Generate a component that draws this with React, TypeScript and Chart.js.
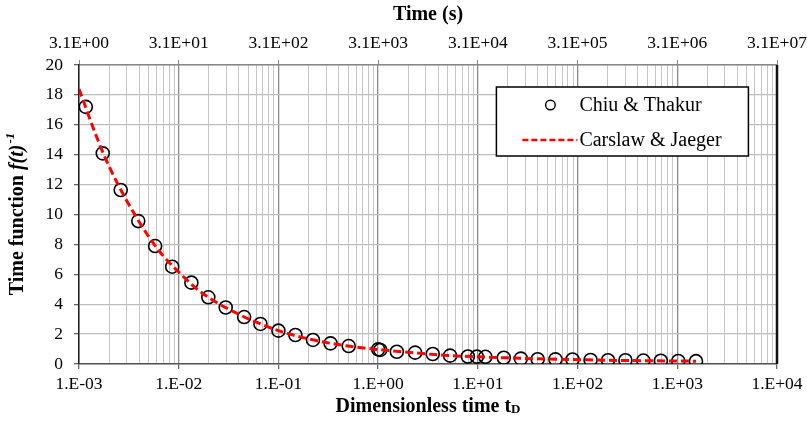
import React, { useEffect, useRef } from "react";
import { Chart, registerables } from "chart.js";

Chart.register(...registerables);

// Chiu & Thakur (circles)
const ctTD = [1.17e-3, 1.73e-3, 2.62e-3, 3.93e-3, 5.8e-3, 8.6e-3, 1.34e-2, 1.98e-2, 2.96e-2, 4.53e-2, 6.6e-2, 0.1, 0.148, 0.222, 0.333, 0.507, 1.0, 1.05, 1.54, 2.35, 3.53, 5.27, 7.94, 9.77, 11.9, 18.2, 27, 39.8, 60, 89, 135, 202, 302, 457, 684, 1023, 1540];
const ctF = [17.2, 14.09, 11.64, 9.56, 7.89, 6.51, 5.44, 4.46, 3.78, 3.14, 2.68, 2.23, 1.94, 1.61, 1.38, 1.2, 0.98, 0.94, 0.82, 0.76, 0.67, 0.56, 0.5, 0.49, 0.48, 0.42, 0.36, 0.32, 0.31, 0.3, 0.27, 0.25, 0.25, 0.23, 0.22, 0.2, 0.19];

// Carslaw & Jaeger (dashed line)
const cjTD = [0.001, 0.0015, 0.002, 0.003, 0.005, 0.007, 0.01, 0.015, 0.02, 0.03, 0.05, 0.07, 0.1, 0.2, 0.5, 1, 2, 5, 10, 20, 50, 100, 200, 500, 1000, 1540];
const cjF = [18.4, 15.2, 13.23, 10.94, 8.52, 7.23, 6.15, 5.05, 4.44, 3.75, 3.02, 2.62, 2.23, 1.68, 1.2, 0.97, 0.78, 0.57, 0.48, 0.41, 0.33, 0.29, 0.25, 0.22, 0.2, 0.19];

// axis ranges / ticks
const xMin = 1e-3;
const xMax = 1e4;
const topMin = 3.1;
const topMax = 3.1e7;
const topTicks = [3.1, 31, 310, 3100, 31000, 310000, 3100000, 31000000];
const yMin = 0;
const yMax = 20;
const yStep = 2;

const seriesLabels = ["Chiu & Thakur", "Carslaw & Jaeger"];
const FONT = "'Liberation Serif', 'Times New Roman', serif";

function expLabel(v: number, mant: string) {
  const e = Math.round(Math.log10(v / parseFloat(mant)));
  const s = e < 0 ? "-" : "+";
  const a = Math.abs(e);
  return `${mant}E${s}${a < 10 ? "0" + a : a}`;
}

function isPow10(v: number) {
  const l = Math.log10(v);
  return Math.abs(l - Math.round(l)) < 1e-6;
}

const decorPlugin = {
  id: "decor",
  afterDraw(chart: any) {
    const { ctx, chartArea } = chart;
    const { left, right, top, bottom } = chartArea;
    ctx.save();
    // right border
    ctx.strokeStyle = "#111";
    ctx.lineWidth = 2.5;
    ctx.beginPath();
    ctx.moveTo(right, top);
    ctx.lineTo(right, bottom);
    ctx.stroke();

    // titles
    ctx.fillStyle = "#000";
    ctx.textBaseline = "middle";
    ctx.textAlign = "center";
    ctx.font = `bold 20px ${FONT}`;
    const cx = (left + right) / 2;
    ctx.fillText("Time (s)", cx, 15);

    // bottom title with small D
    const mainT = "Dimensionless time t";
    ctx.font = `bold 20px ${FONT}`;
    const w1 = ctx.measureText(mainT).width;
    ctx.font = `bold 13px ${FONT}`;
    const w2 = ctx.measureText("D").width;
    const sx = cx - (w1 + w2) / 2;
    ctx.textAlign = "left";
    ctx.textBaseline = "alphabetic";
    ctx.font = `bold 20px ${FONT}`;
    ctx.fillText(mainT, sx, 412);
    ctx.font = `bold 13px ${FONT}`;
    ctx.fillText("D", sx + w1, 413);

    // y title rotated
    ctx.textBaseline = "middle";
    const cy = (top + bottom) / 2;
    ctx.translate(18, cy);
    ctx.rotate(-Math.PI / 2);
    const p1 = "Time function ";
    const p2 = "f(t)";
    const p3 = "-1";
    ctx.font = `bold 20px ${FONT}`;
    const a1 = ctx.measureText(p1).width;
    ctx.font = `bold italic 20px ${FONT}`;
    const a2 = ctx.measureText(p2).width;
    ctx.font = `bold italic 13px ${FONT}`;
    const a3 = ctx.measureText(p3).width;
    let px = -(a1 + a2 + a3) / 2;
    ctx.font = `bold 20px ${FONT}`;
    ctx.fillText(p1, px, 0);
    px += a1;
    ctx.font = `bold italic 20px ${FONT}`;
    ctx.fillText(p2, px, 0);
    px += a2 + 1;
    ctx.font = `bold italic 13px ${FONT}`;
    ctx.fillText(p3, px, -7);
    ctx.restore();

    // legend
    ctx.save();
    const bx = left + (right - left) * 0.598;
    const by = top + 22;
    const bw = 252;
    const bh = 69;
    ctx.fillStyle = "#fff";
    ctx.fillRect(bx, by, bw, bh);
    ctx.strokeStyle = "#000";
    ctx.lineWidth = 1.5;
    ctx.strokeRect(bx, by, bw, bh);
    const r1 = by + 18;
    const r2 = by + 53;
    ctx.beginPath();
    ctx.arc(bx + 54, r1, 4.8, 0, Math.PI * 2);
    ctx.lineWidth = 1.4;
    ctx.stroke();
    ctx.strokeStyle = "#ff0000";
    ctx.lineWidth = 2.5;
    ctx.setLineDash([6, 3]);
    ctx.beginPath();
    ctx.moveTo(bx + 26, r2);
    ctx.lineTo(bx + 81, r2);
    ctx.stroke();
    ctx.setLineDash([]);
    ctx.fillStyle = "#000";
    ctx.font = `20px ${FONT}`;
    ctx.textAlign = "left";
    ctx.textBaseline = "middle";
    ctx.fillText(seriesLabels[0], bx + 83, r1 + 1);
    ctx.fillText(seriesLabels[1], bx + 83, r2 + 1);
    ctx.restore();
  },
};

function zeroSidePad(scale: any, h: number) {
  scale.height = h;
  scale.paddingLeft = 0;
  scale.paddingRight = 0;
}

export default function App() {
  const ref = useRef<HTMLCanvasElement | null>(null);
  useEffect(() => {
    if (!ref.current) return;
    const tickFont = { family: FONT, size: 17.5 };
    const chart = new Chart(ref.current, {
      type: "scatter",
      data: {
        datasets: [
          {
            label: seriesLabels[0],
            data: ctTD.map((x, i) => ({ x, y: ctF[i] })),
            pointRadius: 6.5,
            pointBorderWidth: 1.6,
            pointBorderColor: "#000",
            pointBackgroundColor: "rgba(0,0,0,0)",
            showLine: false,
            order: 2,
          },
          {
            label: seriesLabels[1],
            data: cjTD.map((x, i) => ({ x, y: cjF[i] })),
            showLine: true,
            pointRadius: 0,
            borderColor: "#ff0000",
            borderWidth: 3,
            borderDash: [8, 4],
            cubicInterpolationMode: "monotone",
            order: 1,
          },
        ],
      },
      options: {
        animation: false,
        responsive: false,
        layout: { padding: { left: 0, right: 30, top: 0, bottom: 0 } },
        plugins: { legend: { display: false }, tooltip: { enabled: false } },
        scales: {
          x: {
            type: "logarithmic",
            position: "bottom",
            min: xMin,
            max: xMax,
            afterBuildTicks(scale: any) {
              const t: any[] = [];
              for (let e = -3; e <= 4; e++) {
                for (let m = 1; m <= 9; m++) {
                  const v = m * Math.pow(10, e);
                  if (v > xMax * 1.0001) break;
                  t.push({ value: v, major: m === 1 });
                }
              }
              scale.ticks = t;
            },
            afterFit(scale: any) {
              zeroSidePad(scale, 79);
            },
            ticks: {
              autoSkip: false,
              maxRotation: 0,
              padding: 5,
              color: "#000",
              font: tickFont,
              callback: (v: any) => (isPow10(Number(v)) ? expLabel(Number(v), "1.") : ""),
            },
            grid: {
              color: (c: any) => (c.tick && isPow10(c.tick.value) ? "#8a8a8a" : "#c6c6c6"),
              lineWidth: (c: any) => (c.tick && isPow10(c.tick.value) ? 1.3 : 1),
              tickColor: (c: any) => (c.tick && isPow10(c.tick.value) ? "#666" : "rgba(0,0,0,0)"),
              tickLength: 5,
            },
            border: { color: "#555", width: 1.5 },
          },
          x2: {
            type: "logarithmic",
            position: "top",
            min: topMin,
            max: topMax,
            afterBuildTicks(scale: any) {
              scale.ticks = topTicks.map((v) => ({ value: v, major: true }));
            },
            afterFit(scale: any) {
              zeroSidePad(scale, 65);
            },
            ticks: {
              autoSkip: false,
              maxRotation: 0,
              padding: 6,
              color: "#000",
              font: tickFont,
              callback: (v: any) => expLabel(Number(v), "3.1"),
            },
            grid: { drawOnChartArea: false, tickLength: 5, color: "#888" },
            border: { color: "#888", width: 1.5 },
          },
          y: {
            type: "linear",
            min: yMin,
            max: yMax,
            afterFit(scale: any) {
              scale.width = 79;
              scale.paddingTop = 0;
              scale.paddingBottom = 0;
            },
            ticks: {
              stepSize: yStep,
              padding: 11,
              color: "#000",
              font: tickFont,
            },
            grid: { color: "#bdbdbd", lineWidth: 1.3, tickLength: 5, tickColor: "#666" },
            border: { color: "#222", width: 1.5 },
          },
        },
      } as any,
      plugins: [decorPlugin],
    });
    return () => chart.destroy();
  }, []);
  return (
    <div style={{ position: "absolute", left: 0, top: 0, width: 807, height: 443, background: "#fff" }}>
      <canvas ref={ref} width={807} height={443} style={{ width: 807, height: 443 }} />
    </div>
  );
}
